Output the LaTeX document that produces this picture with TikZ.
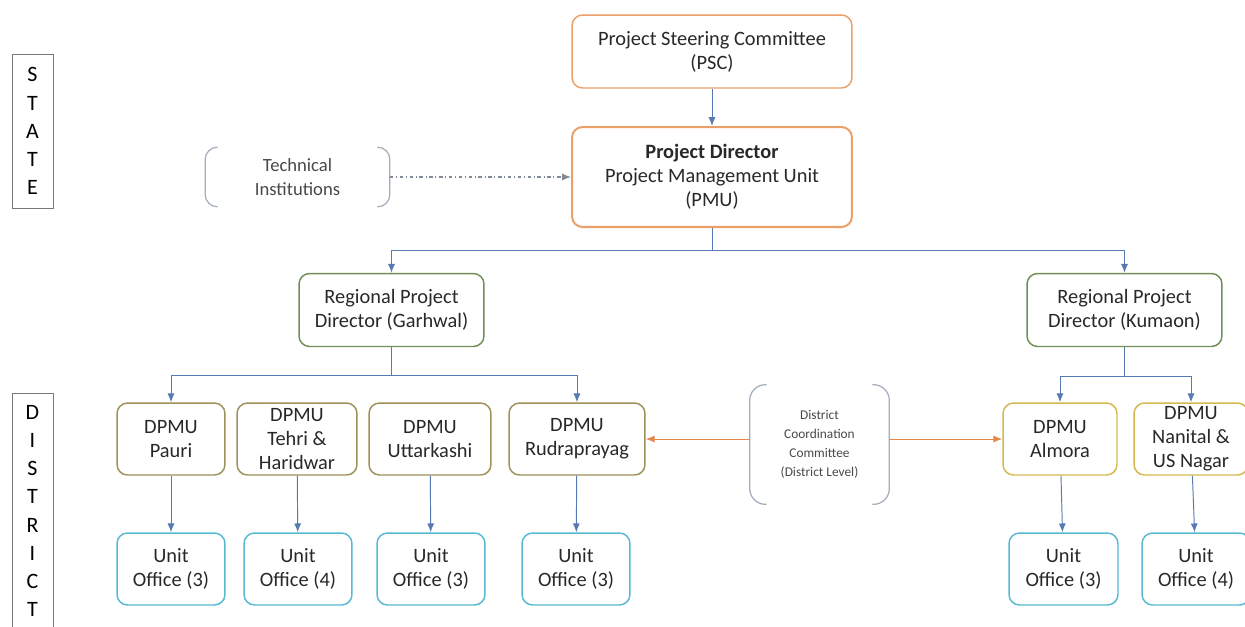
\documentclass[tikz,border=0pt]{standalone}
\usepackage{fontspec}
\setmainfont{Carlito}
\usepackage{xcolor}
\usepackage{tikz}
\usetikzlibrary{arrows.meta}

\definecolor{steerOrange}{RGB}{236,160,105}
\definecolor{regionGreen}{RGB}{112,142,88}
\definecolor{dpmuOlive}{RGB}{158,146,90}
\definecolor{dpmuGold}{RGB}{214,184,80}
\definecolor{unitCyan}{RGB}{86,186,210}
\definecolor{linkBlue}{RGB}{88,122,178}
\definecolor{coordOrange}{RGB}{230,135,75}
\definecolor{braceGrey}{RGB}{162,172,186}
\definecolor{sideGrey}{RGB}{120,120,120}
\definecolor{textGrey}{RGB}{40,40,40}

\begin{document}
\begin{tikzpicture}[x=0.02cm,y=-0.02cm,
box/.style={draw,rounded corners=6pt,align=center,text=textGrey,line width=0.85pt,
  font=\fontsize{11.6}{13.6}\selectfont,inner sep=0pt,minimum height=1.44cm},
psc/.style={box,draw=steerOrange,minimum width=5.6cm,minimum height=1.46cm},
pmu/.style={box,draw=steerOrange,line width=1.15pt,minimum width=5.6cm,minimum height=2.0cm},
region/.style={box,draw=regionGreen,minimum height=1.46cm},
dpmu/.style={box,draw=dpmuOlive},
dpmuK/.style={box,draw=dpmuGold},
unit/.style={box,draw=unitCyan,minimum width=2.16cm},
side/.style={draw=sideGrey,line width=0.5pt,align=center,minimum width=0.82cm,inner sep=0pt,
  font=\fontsize{12.5}{16}\selectfont},
brace/.style={draw=braceGrey,line width=0.7pt,rounded corners=7pt},
note/.style={align=center,text=textGrey!85,inner sep=0pt},
link/.style={draw=linkBlue,line width=0.55pt,-{Latex[length=5pt,width=4pt]}},
plain/.style={draw=linkBlue,line width=0.55pt},
coordLink/.style={draw=coordOrange,line width=0.55pt,-{Latex[length=5pt,width=4pt]}},
techLink/.style={draw=braceGrey!80!black,line width=0.6pt,dash pattern=on 2pt off 1.5pt on 0.6pt off 1.5pt,
  -{Latex[length=5pt,width=4pt]}}]
\useasboundingbox (0,0) rectangle (1245,626);

\node[side,minimum height=3.08cm] (state) at (32.5,131) {S\\T\\A\\T\\E};
\node[side,minimum height=4.72cm] (district) at (32.5,511) {D\\I\\S\\T\\R\\I\\C\\T};

\node[psc] (psc) at (712,51.5) {Project Steering Committee\\(PSC)};
\node[pmu] (pmu) at (712,177) {\textbf{Project Director}\\Project Management Unit\\(PMU)};

\node[note,minimum width=3.68cm,minimum height=1.18cm,font=\fontsize{10.6}{13.4}\selectfont] (tech) at (297.5,177) {Technical\\Institutions};
\draw[brace] ([xshift=0.24cm]tech.north west) -- (tech.north west) -- (tech.south west) -- ([xshift=0.24cm]tech.south west);
\draw[brace] ([xshift=-0.24cm]tech.north east) -- (tech.north east) -- (tech.south east) -- ([xshift=-0.24cm]tech.south east);

\node[region,minimum width=3.7cm] (garhwal) at (391.5,310) {Regional Project\\Director (Garhwal)};
\node[region,minimum width=3.9cm] (kumaon) at (1124.5,310) {Regional Project\\Director (Kumaon)};

\node[dpmu,minimum width=2.16cm] (pauri) at (171,439) {DPMU\\Pauri};
\node[dpmu,minimum width=2.4cm] (tehri) at (297,439) {DPMU\\Tehri \&\\Haridwar};
\node[dpmu,minimum width=2.44cm] (uttarkashi) at (430,439) {DPMU\\Uttarkashi};
\node[dpmu,minimum width=2.72cm] (rudraprayag) at (577,439) {DPMU\\Rudraprayag};
\node[dpmuK,minimum width=2.28cm] (almora) at (1060,439) {DPMU\\Almora};
\node[dpmuK,minimum width=2.28cm] (nainital) at (1191,439) {DPMU\\Nanital \&\\US Nagar};

\node[unit] (uPauri) at (171,569) {Unit\\Office (3)};
\node[unit] (uTehri) at (298,569) {Unit\\Office (4)};
\node[unit] (uUttarkashi) at (431,569) {Unit\\Office (3)};
\node[unit] (uRudraprayag) at (576,569) {Unit\\Office (3)};
\node[unit,minimum width=2.18cm] (uAlmora) at (1063.5,569) {Unit\\Office (3)};
\node[unit] (uNainital) at (1196,569) {Unit\\Office (4)};

\node[note,minimum width=2.78cm,minimum height=2.38cm,font=\fontsize{7.6}{10.8}\selectfont] (dcc) at (819.5,444.5) {District\\Coordination\\Committee\\(District Level)};
\draw[brace,rounded corners=9pt] ([xshift=0.34cm]dcc.north west) -- (dcc.north west) -- (dcc.south west) -- ([xshift=0.34cm]dcc.south west);
\draw[brace,rounded corners=9pt] ([xshift=-0.34cm]dcc.north east) -- (dcc.north east) -- (dcc.south east) -- ([xshift=-0.34cm]dcc.south east);

\coordinate (pmuFork) at (712,250);
\coordinate (garhwalFork) at (391.5,375);
\coordinate (kumaonFork) at (1124.5,376);

\draw[link] (psc) -- (pmu);
\draw[techLink] (tech.east) -- (pmu.west);
\draw[plain] (pmu.south) -- (pmuFork);
\draw[link] (pmuFork) -| (garhwal.north);
\draw[link] (pmuFork) -| (kumaon.north);

\draw[plain] (garhwal.south) -- (garhwalFork);
\draw[link] (garhwalFork) -| (pauri.north);
\draw[link] (garhwalFork) -| (rudraprayag.north);
\draw[plain] (kumaon.south) -- (kumaonFork);
\draw[link] (kumaonFork) -| (almora.north);
\draw[link] (kumaonFork) -| (nainital.north);

\draw[link] (pauri) -- (uPauri);
\draw[link] (tehri) -- (uTehri);
\draw[link] (uttarkashi) -- (uUttarkashi);
\draw[link] (rudraprayag) -- (uRudraprayag);
\draw[link] (almora) -- (uAlmora);
\draw[link] (nainital) -- (uNainital);

\draw[coordLink] (dcc.west |- rudraprayag.east) -- (rudraprayag.east);
\draw[coordLink] (dcc.east |- almora.west) -- (almora.west);
\end{tikzpicture}
\end{document}
